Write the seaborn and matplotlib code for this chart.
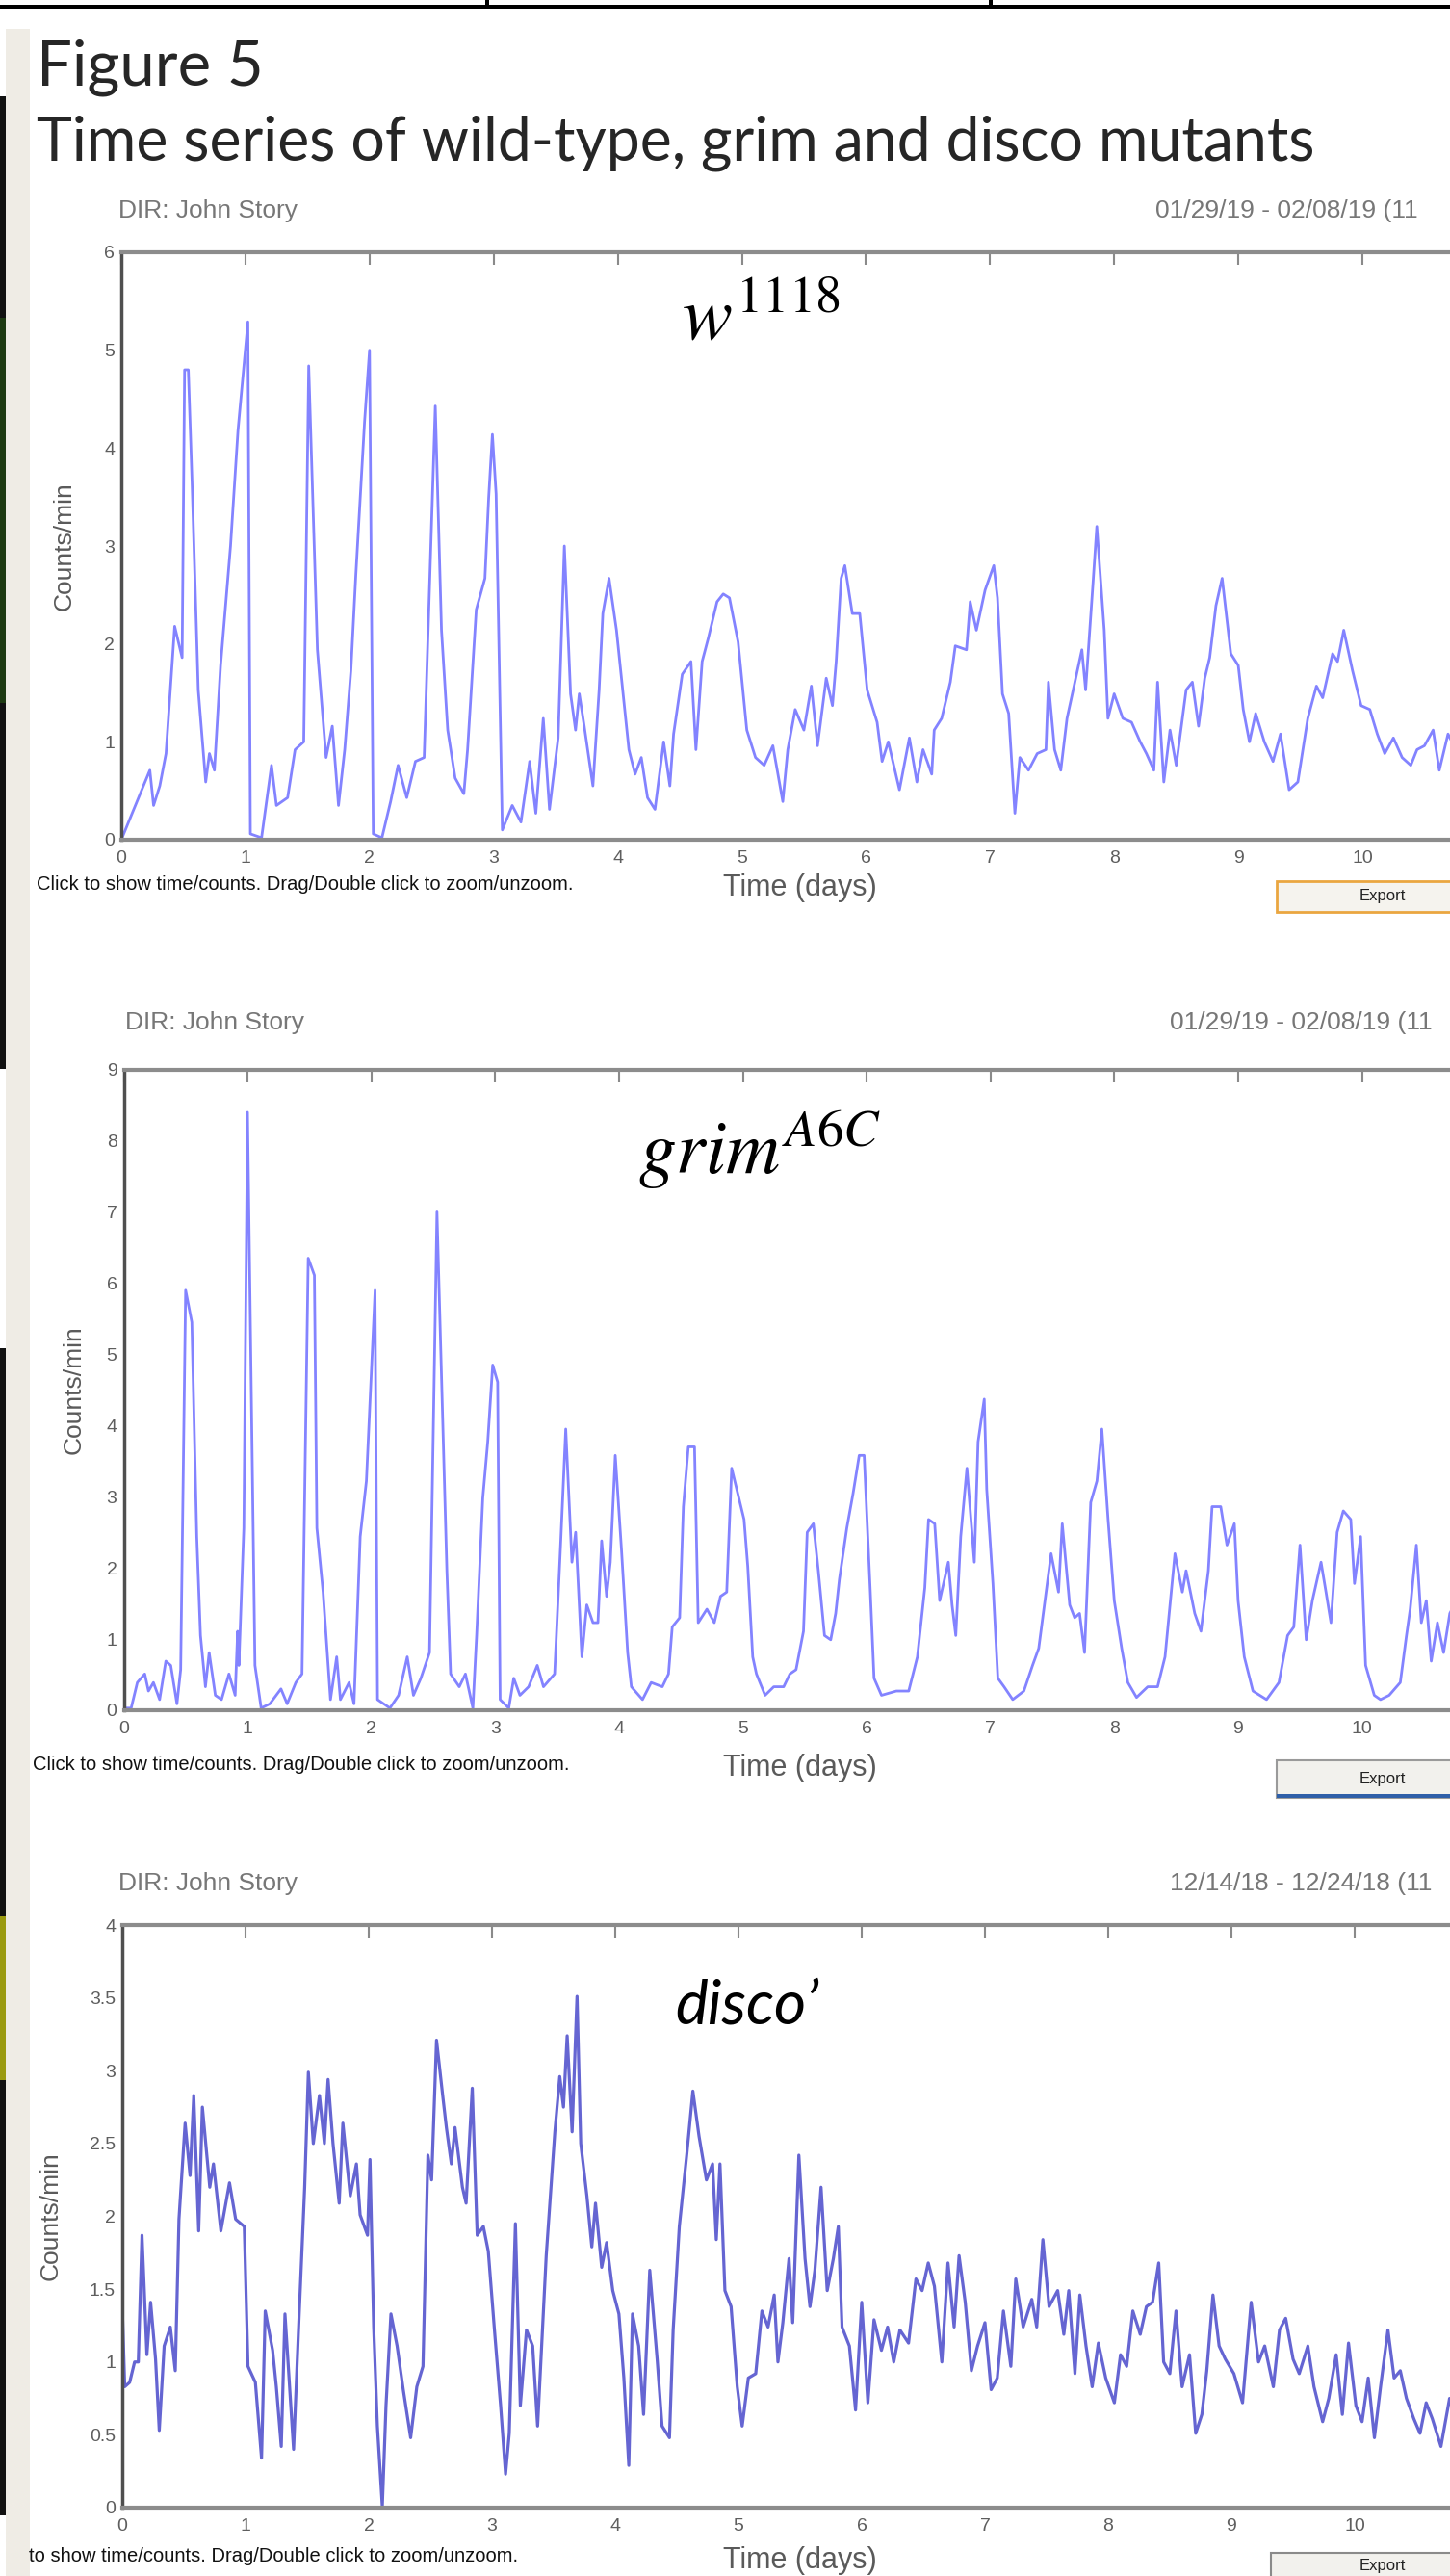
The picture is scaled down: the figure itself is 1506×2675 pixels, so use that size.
import matplotlib
matplotlib.use("Agg")
import matplotlib.pyplot as plt
from matplotlib.patches import Rectangle
import seaborn as sns

#----------------------------------------------------------------------------------------------------------------
# data (time in days, counts/min)
w1118_t = [0, 0.23, 0.26, 0.31, 0.36, 0.43, 0.49, 0.51, 0.54, 0.57, 0.62, 0.68, 0.71, 0.75, 0.80, 0.88, 0.94,
           1.02, 1.04, 1.13, 1.21, 1.25, 1.34, 1.40, 1.47, 1.51, 1.58, 1.65, 1.70, 1.75, 1.80, 1.85, 1.89, 1.96,
           2.00, 2.03, 2.10, 2.17, 2.23, 2.30, 2.37, 2.44, 2.53, 2.58, 2.63, 2.69, 2.76, 2.79, 2.86, 2.93, 2.96,
           2.99, 3.02, 3.07, 3.15, 3.22, 3.29, 3.34, 3.40, 3.45, 3.52, 3.57, 3.62, 3.66, 3.69, 3.73, 3.80, 3.85,
           3.88, 3.93, 3.99, 4.04, 4.09, 4.14, 4.19, 4.24, 4.30, 4.37, 4.42, 4.45, 4.52, 4.59, 4.63, 4.68, 4.73,
           4.80, 4.85, 4.90, 4.97, 5.04, 5.11, 5.18, 5.25, 5.33, 5.37, 5.43, 5.50, 5.56, 5.61, 5.68, 5.73, 5.76,
           5.80, 5.83, 5.89, 5.95, 6.01, 6.09, 6.13, 6.18, 6.27, 6.35, 6.41, 6.46, 6.53, 6.55, 6.61, 6.68, 6.72,
           6.81, 6.84, 6.89, 6.96, 7.03, 7.06, 7.10, 7.15, 7.20, 7.24, 7.31, 7.38, 7.45, 7.47, 7.52, 7.57, 7.62,
           7.69, 7.74, 7.77, 7.83, 7.86, 7.92, 7.95, 8.00, 8.07, 8.14, 8.21, 8.26, 8.32, 8.35, 8.40, 8.45, 8.50,
           8.58, 8.63, 8.68, 8.73, 8.77, 8.82, 8.87, 8.94, 9.00, 9.04, 9.09, 9.14, 9.21, 9.28, 9.34, 9.41, 9.48,
           9.56, 9.63, 9.68, 9.76, 9.80, 9.85, 9.92, 9.99, 10.06, 10.12, 10.18, 10.25, 10.32, 10.39, 10.44,
           10.50, 10.57, 10.62, 10.69, 10.78, 10.85]
w1118_v = [0, 0.71, 0.35, 0.55, 0.88, 2.18, 1.86, 4.8, 4.8, 3.65, 1.53, 0.59, 0.88, 0.71, 1.78, 3.0, 4.18,
           5.29, 0.06, 0.02, 0.76, 0.35, 0.43, 0.92, 1.0, 4.84, 1.94, 0.84, 1.16, 0.35, 0.92, 1.73, 2.71, 4.27,
           5.0, 0.06, 0.02, 0.39, 0.76, 0.43, 0.80, 0.84, 4.43, 2.14, 1.12, 0.63, 0.47, 0.92, 2.35, 2.67, 3.49,
           4.14, 3.53, 0.10, 0.35, 0.18, 0.80, 0.27, 1.24, 0.31, 1.04, 3.0, 1.49, 1.12, 1.49, 1.16, 0.55, 1.53,
           2.31, 2.67, 2.14, 1.53, 0.92, 0.67, 0.84, 0.43, 0.31, 1.0, 0.55, 1.08, 1.69, 1.82, 0.92, 1.82, 2.06,
           2.43, 2.51, 2.47, 2.02, 1.12, 0.84, 0.76, 0.96, 0.39, 0.92, 1.33, 1.12, 1.57, 0.96, 1.65, 1.37, 1.82,
           2.67, 2.80, 2.31, 2.31, 1.53, 1.20, 0.80, 1.0, 0.51, 1.04, 0.59, 0.92, 0.67, 1.12, 1.24, 1.61, 1.98,
           1.94, 2.43, 2.14, 2.55, 2.80, 2.47, 1.49, 1.29, 0.27, 0.84, 0.71, 0.88, 0.92, 1.61, 0.92, 0.71, 1.24,
           1.65, 1.94, 1.53, 2.63, 3.2, 2.14, 1.24, 1.49, 1.24, 1.20, 1.0, 0.88, 0.71, 1.61, 0.59, 1.12, 0.76,
           1.53, 1.61, 1.16, 1.65, 1.86, 2.39, 2.67, 1.90, 1.78, 1.33, 1.0, 1.29, 1.0, 0.80, 1.08, 0.51, 0.59,
           1.24, 1.57, 1.45, 1.90, 1.82, 2.14, 1.73, 1.37, 1.33, 1.08, 0.88, 1.04, 0.84, 0.76, 0.92,
           0.96, 1.12, 0.71, 1.08, 0.85, 1.0]

grim_t = [0, 0.06, 0.11, 0.17, 0.20, 0.24, 0.29, 0.34, 0.38, 0.43, 0.46, 0.50, 0.55, 0.59, 0.62, 0.66, 0.69,
          0.74, 0.79, 0.85, 0.90, 0.92, 0.93, 0.97, 1.00, 1.06, 1.11, 1.18, 1.27, 1.32, 1.39, 1.44, 1.49, 1.54,
          1.56, 1.61, 1.67, 1.72, 1.75, 1.82, 1.86, 1.91, 1.96, 2.03, 2.05, 2.15, 2.22, 2.29, 2.34, 2.40, 2.47,
          2.53, 2.61, 2.64, 2.71, 2.76, 2.82, 2.85, 2.90, 2.94, 2.98, 3.02, 3.04, 3.11, 3.15, 3.20, 3.27, 3.34,
          3.39, 3.48, 3.53, 3.57, 3.62, 3.65, 3.70, 3.74, 3.79, 3.83, 3.86, 3.90, 3.93, 3.97, 4.02, 4.07, 4.10,
          4.19, 4.26, 4.35, 4.40, 4.43, 4.49, 4.52, 4.56, 4.61, 4.64, 4.71, 4.77, 4.82, 4.87, 4.91, 4.96, 5.01,
          5.04, 5.08, 5.11, 5.18, 5.25, 5.33, 5.38, 5.43, 5.49, 5.52, 5.57, 5.61, 5.66, 5.71, 5.75, 5.78, 5.84,
          5.89, 5.94, 5.98, 6.03, 6.06, 6.12, 6.24, 6.34, 6.41, 6.47, 6.50, 6.55, 6.59, 6.66, 6.69, 6.72, 6.76,
          6.81, 6.87, 6.90, 6.95, 6.97, 7.02, 7.06, 7.11, 7.18, 7.27, 7.34, 7.39, 7.44, 7.49, 7.55, 7.58, 7.64,
          7.68, 7.72, 7.76, 7.81, 7.86, 7.90, 7.95, 8.00, 8.06, 8.11, 8.18, 8.27, 8.35, 8.41, 8.46, 8.49, 8.55,
          8.58, 8.65, 8.70, 8.76, 8.79, 8.86, 8.91, 8.97, 9.00, 9.05, 9.12, 9.23, 9.33, 9.40, 9.45, 9.50, 9.55,
          9.60, 9.67, 9.71, 9.75, 9.80, 9.85, 9.91, 9.94, 9.99, 10.03, 10.10, 10.15, 10.22, 10.31, 10.36, 10.39,
          10.44, 10.48, 10.52, 10.56, 10.61, 10.66, 10.71, 10.78, 10.85]
grim_v = [0.03, 0.03, 0.39, 0.51, 0.27, 0.39, 0.15, 0.69, 0.63, 0.09, 0.57, 5.9, 5.45, 2.44, 1.05, 0.33, 0.81,
          0.21, 0.15, 0.51, 0.21, 1.11, 0.63, 2.56, 8.4, 0.63, 0.03, 0.09, 0.30, 0.09, 0.39, 0.51, 6.35, 6.11,
          2.56, 1.66, 0.15, 0.75, 0.15, 0.39, 0.09, 2.44, 3.22, 5.9, 0.15, 0.03, 0.21, 0.75, 0.21, 0.45, 0.81,
          7.0, 1.96, 0.51, 0.33, 0.51, 0.03, 1.05, 2.98, 3.77, 4.85, 4.61, 0.15, 0.03, 0.45, 0.21, 0.33, 0.63,
          0.33, 0.51, 2.38, 3.95, 2.08, 2.5, 0.75, 1.48, 1.23, 1.23, 2.38, 1.60, 2.08, 3.58, 2.26, 0.81, 0.33,
          0.15, 0.39, 0.33, 0.51, 1.17, 1.30, 2.86, 3.70, 3.70, 1.23, 1.42, 1.23, 1.60, 1.66, 3.40, 3.04, 2.68,
          2.02, 0.75, 0.51, 0.21, 0.33, 0.33, 0.51, 0.57, 1.11, 2.50, 2.62, 1.96, 1.05, 0.99, 1.36, 1.84, 2.56,
          3.04, 3.58, 3.58, 1.66, 0.45, 0.21, 0.27, 0.27, 0.75, 1.72, 2.68, 2.62, 1.54, 2.08, 1.48, 1.05, 2.44,
          3.40, 2.08, 3.77, 4.37, 3.10, 1.78, 0.45, 0.33, 0.15, 0.27, 0.63, 0.87, 1.54, 2.20, 1.66, 2.62, 1.48,
          1.30, 1.36, 0.81, 2.92, 3.22, 3.95, 2.68, 1.54, 0.87, 0.39, 0.18, 0.33, 0.33, 0.75, 1.66, 2.20, 1.66,
          1.96, 1.36, 1.11, 1.96, 2.86, 2.86, 2.32, 2.62, 1.54, 0.75, 0.27, 0.15, 0.39, 1.05, 1.17, 2.32, 0.99,
          1.54, 2.08, 1.66, 1.23, 2.50, 2.80, 2.68, 1.78, 2.44, 0.63, 0.21, 0.15, 0.21, 0.39, 1.05, 1.42,
          2.32, 1.23, 1.54, 0.69, 1.23, 0.81, 1.36, 1.6, 1.2]

disco_t = [0, 0.02, 0.06, 0.10, 0.13, 0.16, 0.20, 0.23, 0.27, 0.30, 0.34, 0.39, 0.43, 0.46, 0.51, 0.55, 0.58,
           0.62, 0.65, 0.71, 0.74, 0.80, 0.87, 0.92, 0.99, 1.02, 1.08, 1.13, 1.16, 1.22, 1.25, 1.29, 1.32, 1.39,
           1.43, 1.48, 1.51, 1.55, 1.60, 1.64, 1.67, 1.71, 1.76, 1.79, 1.85, 1.90, 1.93, 1.99, 2.01, 2.04, 2.07,
           2.11, 2.14, 2.18, 2.23, 2.28, 2.34, 2.39, 2.44, 2.48, 2.51, 2.55, 2.60, 2.63, 2.67, 2.70, 2.76, 2.79,
           2.84, 2.88, 2.93, 2.97, 3.02, 3.07, 3.11, 3.14, 3.19, 3.23, 3.28, 3.33, 3.37, 3.44, 3.51, 3.55, 3.58,
           3.61, 3.65, 3.69, 3.72, 3.77, 3.81, 3.84, 3.89, 3.93, 3.98, 4.03, 4.07, 4.11, 4.14, 4.19, 4.23, 4.28,
           4.34, 4.38, 4.44, 4.47, 4.52, 4.58, 4.63, 4.68, 4.74, 4.79, 4.82, 4.85, 4.89, 4.94, 4.99, 5.03, 5.08,
           5.14, 5.19, 5.24, 5.29, 5.32, 5.36, 5.41, 5.44, 5.49, 5.54, 5.58, 5.62, 5.67, 5.72, 5.77, 5.81, 5.84,
           5.90, 5.95, 6.00, 6.05, 6.10, 6.16, 6.21, 6.26, 6.31, 6.38, 6.44, 6.49, 6.54, 6.59, 6.65, 6.70, 6.75,
           6.79, 6.84, 6.89, 6.94, 7.00, 7.05, 7.10, 7.15, 7.21, 7.25, 7.31, 7.38, 7.42, 7.47, 7.52, 7.59, 7.64,
           7.68, 7.73, 7.77, 7.82, 7.87, 7.92, 7.98, 8.05, 8.10, 8.15, 8.20, 8.26, 8.31, 8.36, 8.41, 8.45, 8.50,
           8.55, 8.60, 8.66, 8.71, 8.76, 8.80, 8.85, 8.90, 8.95, 9.02, 9.09, 9.16, 9.22, 9.27, 9.34, 9.39, 9.44,
           9.50, 9.55, 9.62, 9.67, 9.74, 9.79, 9.85, 9.90, 9.95, 10.01, 10.06, 10.11, 10.16, 10.21, 10.27, 10.32,
           10.37, 10.42, 10.48, 10.53, 10.58, 10.63, 10.70, 10.77, 10.83]
disco_v = [1.38, 0.83, 0.86, 1.0, 1.0, 1.87, 1.05, 1.41, 1.02, 0.53, 1.11, 1.24, 0.94, 1.98, 2.64, 2.28, 2.83,
           1.90, 2.75, 2.20, 2.36, 1.90, 2.23, 1.98, 1.93, 0.97, 0.86, 0.34, 1.35, 1.08, 0.83, 0.42, 1.33, 0.40,
           1.22, 2.20, 2.99, 2.50, 2.83, 2.50, 2.94, 2.50, 2.09, 2.64, 2.14, 2.36, 2.01, 1.87, 2.39, 1.24, 0.56,
           0.01, 0.70, 1.33, 1.11, 0.81, 0.48, 0.83, 0.97, 2.42, 2.25, 3.21, 2.83, 2.61, 2.36, 2.61, 2.20, 2.09,
           2.88, 1.87, 1.93, 1.76, 1.22, 0.70, 0.23, 0.51, 1.95, 0.70, 1.22, 1.11, 0.56, 1.73, 2.58, 2.96, 2.75,
           3.24, 2.58, 3.51, 2.50, 2.14, 1.79, 2.09, 1.65, 1.82, 1.49, 1.33, 0.89, 0.29, 1.33, 1.11, 0.64, 1.63,
           1.02, 0.56, 0.48, 1.22, 1.93, 2.42, 2.86, 2.55, 2.25, 2.36, 1.84, 2.36, 1.49, 1.38, 0.83, 0.56, 0.89,
           0.92, 1.35, 1.24, 1.46, 1.0, 1.27, 1.71, 1.27, 2.42, 1.71, 1.38, 1.63, 2.20, 1.49, 1.71, 1.93, 1.24,
           1.11, 0.67, 1.41, 0.72, 1.29, 1.08, 1.24, 1.0, 1.22, 1.13, 1.57, 1.49, 1.68, 1.52, 1.0, 1.68, 1.24,
           1.73, 1.41, 0.94, 1.11, 1.27, 0.81, 0.89, 1.35, 0.97, 1.57, 1.24, 1.43, 1.24, 1.84, 1.38, 1.49, 1.19,
           1.49, 0.92, 1.46, 1.11, 0.83, 1.13, 0.89, 0.72, 1.05, 0.97, 1.35, 1.19, 1.38, 1.41, 1.68, 1.0, 0.92,
           1.35, 0.83, 1.05, 0.51, 0.64, 0.94, 1.46, 1.11, 1.02, 0.92, 0.72, 1.41, 1.0, 1.11, 0.83, 1.22, 1.30,
           1.02, 0.92, 1.11, 0.83, 0.59, 0.75, 1.05, 0.64, 1.13, 0.70, 0.59, 0.89, 0.48, 0.83, 1.22, 0.89,
           0.94, 0.75, 0.61, 0.51, 0.72, 0.61, 0.42, 0.75, 0.55]

x_ticks = list(range(0, 11))
w1118_yticks = [0, 1, 2, 3, 4, 5, 6]
grim_yticks = [0, 1, 2, 3, 4, 5, 6, 7, 8, 9]
disco_yticks = [0, 0.5, 1, 1.5, 2, 2.5, 3, 3.5, 4]
disco_yticklabels = ['0', '0.5', '1', '1.5', '2', '2.5', '3', '3.5', '4']
#----------------------------------------------------------------------------------------------------------------
W, H = 1506, 2675
sns.set_style("white")
plt.rcParams['font.family'] = ['Liberation Sans', 'DejaVu Sans']
plt.rcParams['mathtext.fontset'] = 'stix'

fig = plt.figure(figsize=(W / 100, H / 100), dpi=100)
fig.patch.set_facecolor('white')


def fx(px):
    return px / W


def fy(py):
    return 1 - py / H


def box(x0, y0, x1, y1, **kw):
    # rectangle in pixel coords of the screenshot (y from top)
    fig.add_artist(Rectangle((fx(x0), fy(y1)), fx(x1) - fx(x0), fy(y0) - fy(y1),
                             transform=fig.transFigure, **kw))


# slide leftovers: table border on top, beige margin on the left
box(0, 5, W, 9, facecolor='black', edgecolor='none')
box(504, 0, 508, 7, facecolor='black', edgecolor='none')
box(1027, 0, 1031, 7, facecolor='black', edgecolor='none')
box(6, 30, 31, H, facecolor='#efece5', edgecolor='none')
box(0, 100, 6, 1110, facecolor='#111111', edgecolor='none')
box(0, 330, 6, 730, facecolor='#1d3a12', edgecolor='none')
box(0, 1400, 6, 2612, facecolor='#111111', edgecolor='none')
box(0, 1990, 6, 2160, facecolor='#9a9a10', edgecolor='none')

fig.text(fx(38), fy(89), 'Figure 5', fontsize=47, family=['Lato', 'DejaVu Sans'], va='baseline')
fig.text(fx(38), fy(166), 'Time series of wild-type, grim and disco mutants', fontsize=45,
         family=['Lato', 'DejaVu Sans'], va='baseline')


def draw_panel(t, v, left, top, bottom, ppd, ymax, yticks, yticklabels, color, lw,
               label, label_xy, label_kw, dir_xy, date_text, date_x, ylab_x,
               xlab_y, status_text, status_xy, button_y, button_style):
    ax = fig.add_axes([fx(left), fy(bottom), fx(11 * ppd), fy(top) - fy(bottom)])
    sns.lineplot(x=t, y=v, ax=ax, color=color, linewidth=lw, estimator=None)
    ax.set_xlim(0, 11)
    ax.set_ylim(0, ymax)
    ax.set_xticks(x_ticks)
    ax.set_xticklabels([str(i) for i in x_ticks])
    ax.set_yticks(yticks)
    ax.set_yticklabels(yticklabels)
    ax.tick_params(direction='in', top=True, right=True, length=9, width=1.5, color='#8a8a8a',
                   labelsize=14, labelcolor='#5e5e5e', pad=5)
    ax.tick_params(axis='x', pad=8)
    for side in ['top', 'bottom']:
        ax.spines[side].set_color('#8c8c8c')
        ax.spines[side].set_linewidth(3)
    ax.spines['left'].set_color('#4f4f4f')
    ax.spines['left'].set_linewidth(2.5)
    ax.spines['right'].set_visible(False)
    ax.set_xlabel('')
    ax.set_ylabel('')
    ax.text(fx(label_xy[0]), fy(label_xy[1]), label, transform=fig.transFigure,
            ha='left', va='baseline', **label_kw)

    mid = (top + bottom) / 2
    fig.text(fx(ylab_x), fy(mid), 'Counts/min', rotation=90, ha='center', va='center',
             fontsize=19, color='#5a5a5a')
    fig.text(fx(831), fy(xlab_y), 'Time (days)', ha='center', va='center', fontsize=22, color='#5a5a5a')
    fig.text(fx(dir_xy[0]), fy(dir_xy[1]), 'DIR: John Story', ha='left', va='center',
             fontsize=19, color='#777777')
    fig.text(fx(date_x), fy(dir_xy[1]), date_text, ha='left', va='center', fontsize=19, color='#777777')
    fig.text(fx(status_xy[0]), fy(status_xy[1]), status_text, ha='left', va='center',
             fontsize=14.5, color='#111111')

    # the Export button of the viewer window, cut by the right edge
    y0, y1 = button_y
    if button_style == 'orange':
        box(1326, y0, 1540, y1, facecolor='#f5f3ee', edgecolor='#eaa640', linewidth=2)
    elif button_style == 'blue':
        box(1326, y0, 1540, y1, facecolor='#f2f1ed', edgecolor='#9a9a9a', linewidth=1.5)
        box(1326, y1 - 4, 1540, y1, facecolor='#2f5fa8', edgecolor='none')
    else:
        box(1320, y0, 1540, y1 + 20, facecolor='#f2f1ed', edgecolor='#8a8a8a', linewidth=1.5)
    fig.text(fx(1436), fy((y0 + y1) / 2 if button_style != 'gray' else y0 + 14), 'Export',
             ha='center', va='center', fontsize=12, color='#222222')
    return ax


status = 'Click to show time/counts. Drag/Double click to zoom/unzoom.'
math_kw = dict(fontsize=56, color='black')

draw_panel(w1118_t, w1118_v, 126, 262, 872, 128.9, 6, w1118_yticks, [str(i) for i in w1118_yticks],
           '#8383ff', 2.0, r'$w^{1118}$', (708, 353), math_kw, (123, 219),
           '01/29/19 - 02/08/19 (11', 1200, 67, 922, status, (38, 918), (915, 947), 'orange')

draw_panel(grim_t, grim_v, 128.5, 1110.6, 1776, 128.6, 9, grim_yticks, [str(i) for i in grim_yticks],
           '#8383ff', 2.0, r'$grim^{A6C}$', (663, 1219), math_kw, (130, 1062),
           '01/29/19 - 02/08/19 (11', 1215, 77, 1836, status, (34, 1833), (1828, 1867), 'blue')

draw_panel(disco_t, disco_v, 127, 1999, 2604, 128.0, 4, disco_yticks, disco_yticklabels,
           '#6565d2', 2.3, 'disco\u2019', (701, 2101),
           dict(fontsize=46, style='italic', family=['Lato', 'DejaVu Sans'], color='black'), (123, 1956),
           '12/14/18 - 12/24/18 (11', 1215, 53, 2659,
           'to show time/counts. Drag/Double click to zoom/unzoom.', (30, 2654), (2651, 2675), 'gray')

fig.savefig('out.png', dpi=100, facecolor='white')
plt.close()
